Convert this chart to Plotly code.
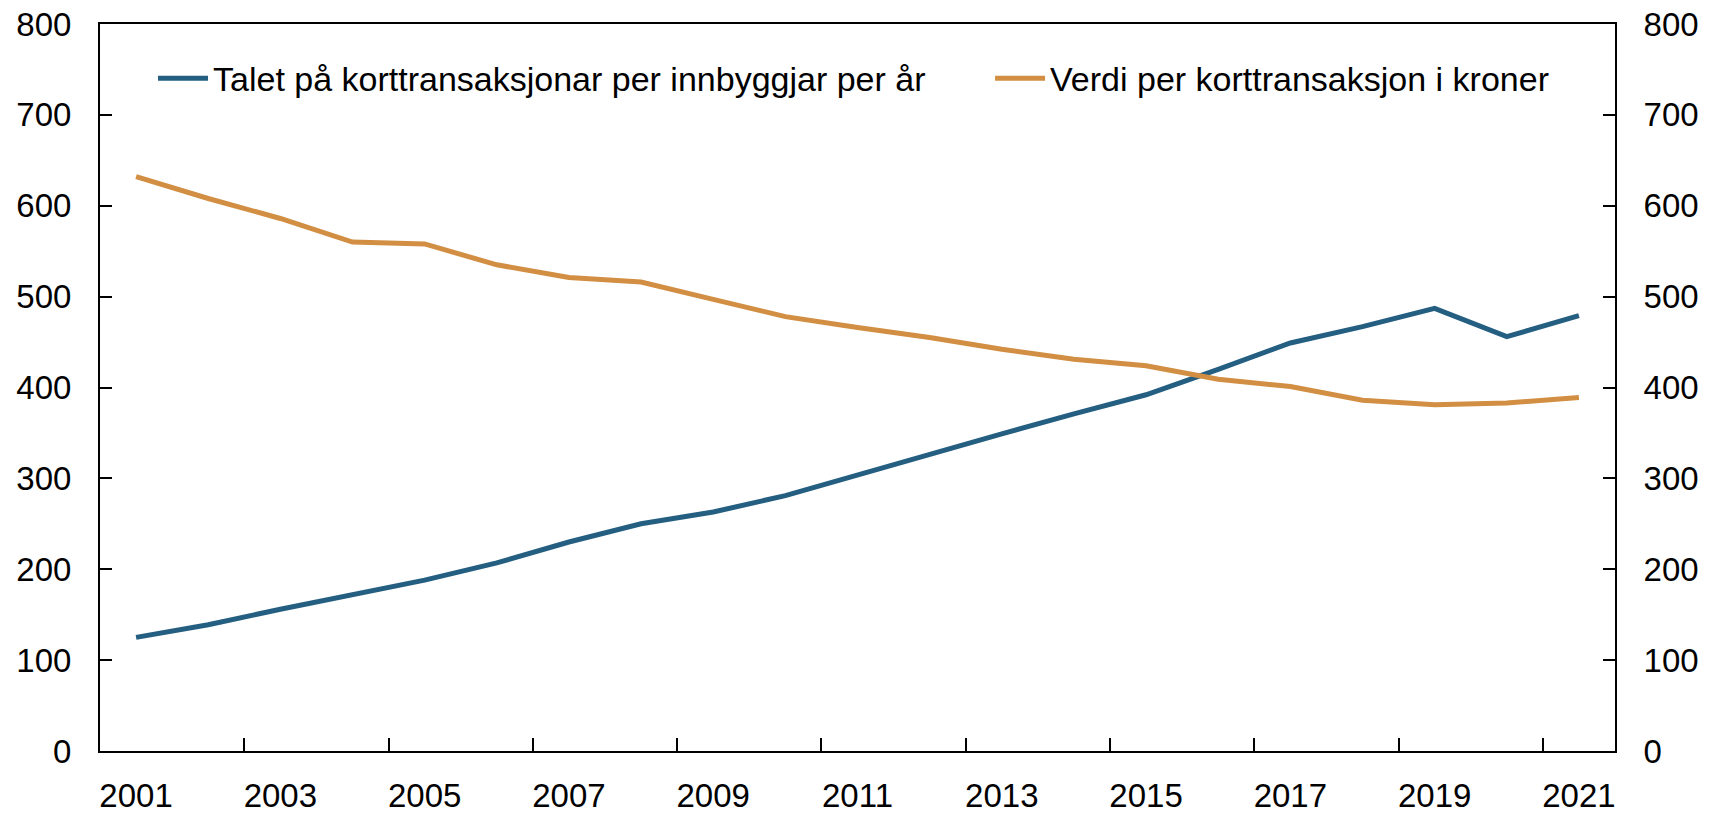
import plotly.graph_objects as go

years = [str(y) for y in range(2001, 2022)]
tick_years = [str(y) for y in range(2001, 2022, 2)]

# Talet på korttransaksjonar per innbyggjar per år
transaksjonar = [125, 139, 156, 172, 188, 207, 230, 250, 263, 281, 304,
                 327, 349, 371, 392, 420, 449, 467, 487, 456, 479]
# Verdi per korttransaksjon i kroner
verdi = [632, 608, 586, 560, 558, 535, 521, 516, 497, 478, 466,
         455, 442, 431, 424, 409, 401, 386, 381, 383, 389]

name_a = "Talet på korttransaksjonar per innbyggjar per år"
name_b = "Verdi per korttransaksjon i kroner"

blue = "#245E80"
orange = "#D28E42"
font = "Liberation Sans, Arial, sans-serif"
fsize = 33

fig = go.Figure()
fig.add_trace(go.Scatter(x=years, y=transaksjonar, name=name_a, mode="lines",
                         line=dict(color=blue, width=5), showlegend=True,
                         legend="legend"))
fig.add_trace(go.Scatter(x=years, y=verdi, name=name_b, mode="lines",
                         line=dict(color=orange, width=5), showlegend=True,
                         yaxis="y2", legend="legend2"))

axis_common = dict(range=[0, 800], dtick=100, showgrid=False, zeroline=False,
                   showline=True, linecolor="black", linewidth=2, automargin=False,
                   ticks="inside", ticklen=12, tickwidth=2, tickcolor="black",
                   tickfont=dict(family=font, size=fsize, color="black"))

legend_common = dict(orientation="h", y=0.925, xanchor="left", yanchor="middle",
                     bgcolor="rgba(0,0,0,0)", itemwidth=50, visible=True,
                     font=dict(family=font, size=34, color="black"))

fig.update_layout(
    width=1711, height=815, showlegend=True,
    paper_bgcolor="white", plot_bgcolor="white",
    margin=dict(l=100, r=96, t=24, b=64),
    font=dict(family=font, size=fsize, color="black"),
    xaxis=dict(type="category", range=[-0.5, 20.5], tickmode="array",
               tickvals=tick_years, ticktext=tick_years, tickangle=0,
               tickson="boundaries", ticks="inside", ticklen=13, tickwidth=2,
               tickcolor="black", showline=True, linecolor="black", linewidth=2,
               mirror=True, showgrid=False, ticklabelstandoff=14, automargin=False,
               tickfont=dict(family=font, size=fsize, color="black")),
    yaxis=dict(side="left", ticklabelstandoff=20, **axis_common),
    yaxis2=dict(side="right", overlaying="y", ticklabelstandoff=20, **axis_common),
    legend=dict(x=0.035, **legend_common),
    legend2=dict(x=0.5875, **legend_common),
)

fig.write_html("out.html", config=dict(displayModeBar=False),
               post_script="document.body.style.margin='0';")
